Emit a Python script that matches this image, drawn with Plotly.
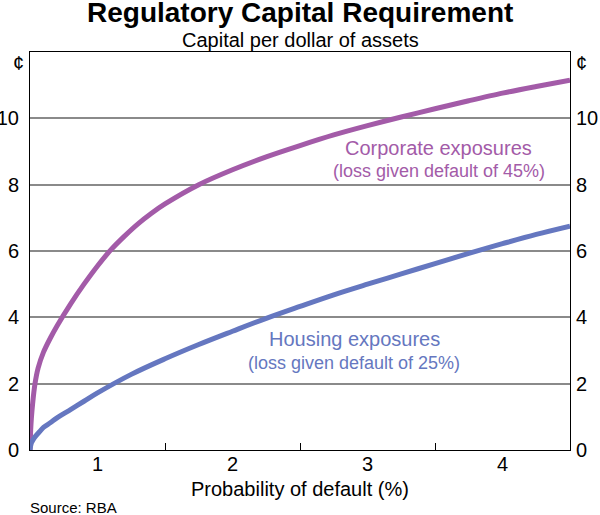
import plotly.graph_objects as go

# Probability of default (%) and capital per dollar of assets (cents)
corp_pd = [0.5, 0.505, 0.51, 0.52, 0.537, 0.56, 0.6, 0.65, 0.7, 0.8, 0.9, 1.0, 1.1, 1.2, 1.3,
           1.4, 1.5, 1.75, 2.0, 2.25, 2.5, 2.75, 3.0, 3.25, 3.5, 3.75, 4.0, 4.25, 4.5]
corp_cap = [0, 0.6, 0.95, 1.42, 2.0, 2.47, 2.95, 3.37, 3.74, 4.4, 5.0, 5.55, 6.04, 6.45, 6.82,
            7.14, 7.42, 8.0, 8.45, 8.84, 9.18, 9.5, 9.78, 10.04, 10.29, 10.53, 10.76, 10.96, 11.15]

house_pd = [0.5, 0.51, 0.52, 0.54, 0.57, 0.6, 0.65, 0.7, 0.8, 0.9, 1.0, 1.25, 1.5, 1.75,
            2.0, 2.25, 2.5, 2.75, 3.0, 3.25, 3.5, 3.75, 4.0, 4.25, 4.5]
house_cap = [0, 0.21, 0.29, 0.41, 0.55, 0.68, 0.82, 0.97, 1.22, 1.47, 1.72, 2.28, 2.75, 3.18,
             3.58, 3.97, 4.33, 4.68, 5.0, 5.31, 5.62, 5.93, 6.22, 6.5, 6.75]

x_label_vals = [1, 2, 3, 4]
x_tick_marks = [1.5, 2.5, 3.5]
y_tick_vals = [0, 2, 4, 6, 8, 10]

PURPLE = "#a35ba8"
BLUE = "#6577c0"
FONT = "Arial, Liberation Sans, sans-serif"

fig = go.Figure()
fig.add_trace(go.Scatter(x=corp_pd, y=corp_cap, mode="lines",
                         line=dict(color=PURPLE, width=5, shape="spline", smoothing=0.8),
                         xaxis="x", yaxis="y", showlegend=False, hoverinfo="skip"))
fig.add_trace(go.Scatter(x=house_pd, y=house_cap, mode="lines",
                         line=dict(color=BLUE, width=5, shape="spline", smoothing=1.0),
                         xaxis="x2", yaxis="y2", showlegend=False, hoverinfo="skip"))

axis_font = dict(family=FONT, size=20, color="black")

fig.update_layout(
    template="none",
    width=600, height=515,
    margin=dict(l=30, r=30, t=52, b=65, autoexpand=False),
    paper_bgcolor="white", plot_bgcolor="white",
    font=dict(family=FONT, color="black"),
    xaxis=dict(range=[0.5, 4.5], tickvals=x_tick_marks, ticks="inside", ticklen=7,
               tickwidth=1, tickcolor="black", showticklabels=False,
               showline=True, mirror=True, linecolor="black", linewidth=1,
               showgrid=False, zeroline=False, automargin=False),
    xaxis2=dict(range=[0.5, 4.5], overlaying="x", side="bottom", anchor="y",
                tickvals=x_label_vals, ticks="", tickfont=axis_font,
                showline=False, showgrid=False, zeroline=False, automargin=False),
    yaxis=dict(range=[0, 12], tickvals=y_tick_vals, ticks="", tickfont=axis_font,
               ticklabelstandoff=6,
               showgrid=True, gridcolor="#8a8a8a", gridwidth=1.5,
               showline=True, mirror=True, linecolor="black", linewidth=1,
               zeroline=False, automargin=False),
    yaxis2=dict(range=[0, 12], overlaying="y", side="right", anchor="x",
                tickvals=y_tick_vals, ticks="", tickfont=axis_font,
                ticklabelstandoff=5,
                showgrid=False, showline=False, zeroline=False, automargin=False),
)

ann = []
ann.append(dict(text="<b>Regulatory Capital Requirement</b>", xref="paper", yref="paper",
                x=0.5, y=1.099, xanchor="center", yanchor="middle", showarrow=False,
                font=dict(size=28, color="black", family=FONT)))
ann.append(dict(text="Capital per dollar of assets", xref="paper", yref="paper",
                x=0.5, y=1.031, xanchor="center", yanchor="middle", showarrow=False,
                font=dict(size=20, color="black", family=FONT)))
for xp in (-0.022, 1.022):
    ann.append(dict(text="¢", xref="paper", yref="paper", x=xp, y=0.972,
                    xanchor="center", yanchor="middle", showarrow=False,
                    font=dict(size=20, color="black", family=FONT)))
ann.append(dict(text="Probability of default (%)", xref="paper", yref="paper",
                x=0.5, y=-0.097, xanchor="center", yanchor="middle", showarrow=False,
                font=dict(size=20, color="black", family=FONT)))
ann.append(dict(text="Source: RBA", xref="paper", yref="paper",
                x=-0.004, y=-0.145, xanchor="left", yanchor="middle", showarrow=False,
                font=dict(size=15, color="black", family=FONT)))
ann.append(dict(text="Corporate exposures", xref="x", yref="y", x=3.526, y=9.1,
                xanchor="center", yanchor="middle", showarrow=False,
                font=dict(size=20, color=PURPLE, family=FONT)))
ann.append(dict(text="(loss given default of 45%)", xref="x", yref="y", x=3.526, y=8.41,
                xanchor="center", yanchor="middle", showarrow=False,
                font=dict(size=18, color=PURPLE, family=FONT)))
ann.append(dict(text="Housing exposures", xref="x", yref="y", x=2.9, y=3.35,
                xanchor="center", yanchor="middle", showarrow=False,
                font=dict(size=20, color=BLUE, family=FONT)))
ann.append(dict(text="(loss given default of 25%)", xref="x", yref="y", x=2.9, y=2.62,
                xanchor="center", yanchor="middle", showarrow=False,
                font=dict(size=18, color=BLUE, family=FONT)))
fig.update_layout(annotations=ann)

fig.write_html("out.html", config={"displayModeBar": False},
               post_script="document.body.style.margin='0';document.body.style.overflow='hidden';")
